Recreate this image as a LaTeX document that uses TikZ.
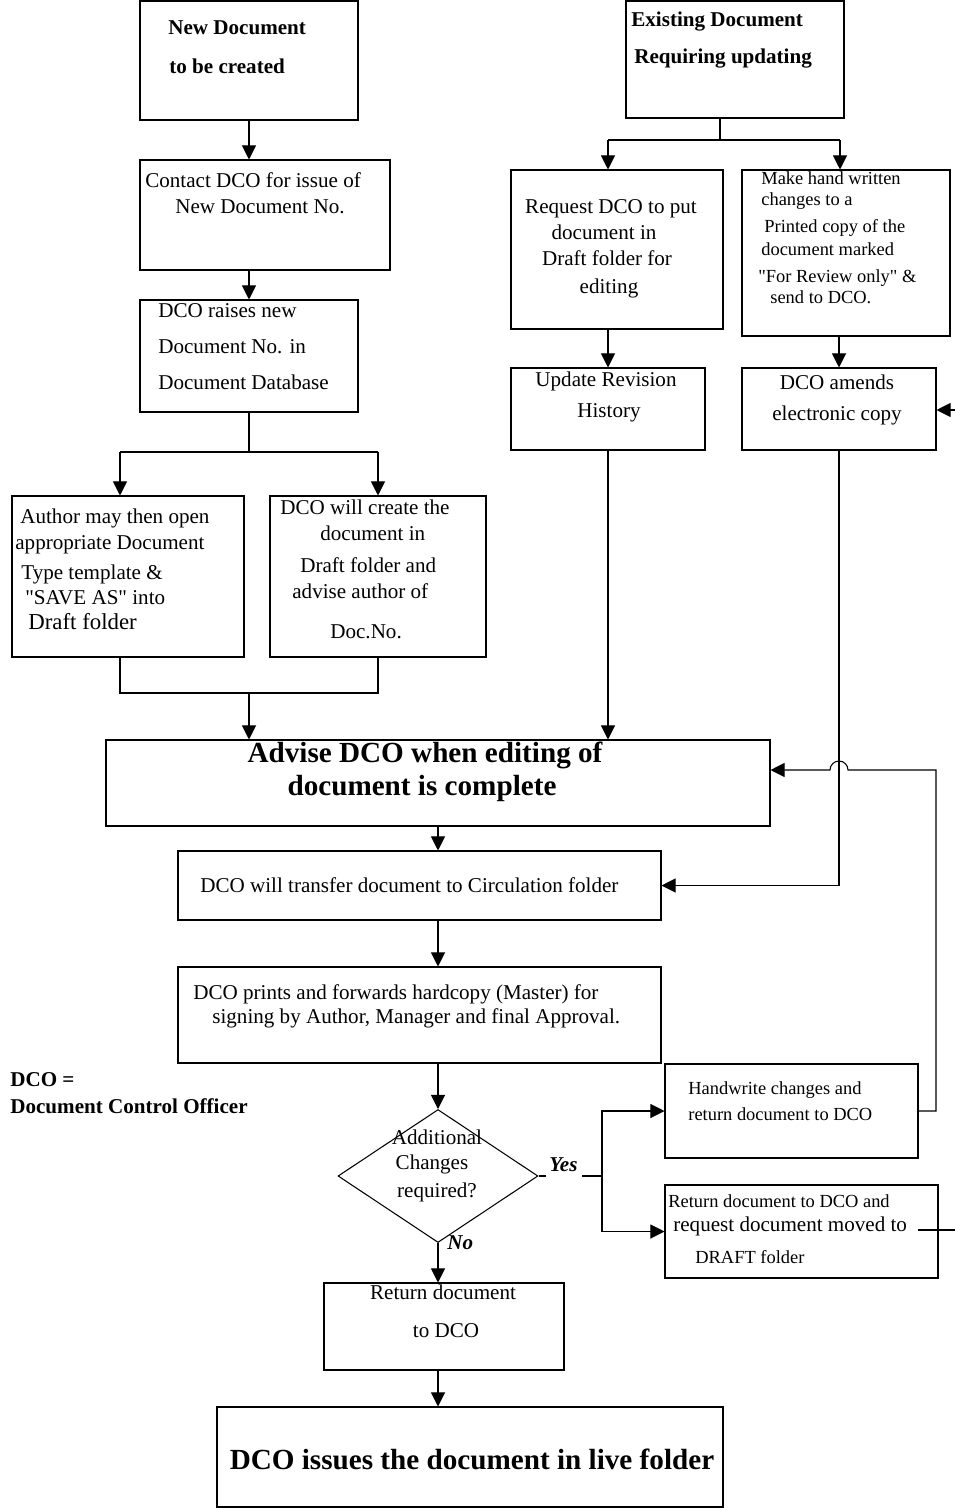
\documentclass[tikz,border=0pt]{standalone}
\usepackage{fontspec}
\setmainfont{Liberation Serif}
\usetikzlibrary{arrows.meta,fit,shapes.geometric}
\begin{document}
\begin{tikzpicture}[x=0.02cm,y=-0.02cm,
  box/.style={draw,line width=0.6pt,inner sep=0pt},
  conn/.style={line width=0.6pt},
  arr/.style={conn,-{Triangle[length=8pt,width=8pt]}},
  tx/.style={inner sep=0pt,anchor=west,font=\fontsize{12}{14}\selectfont,text height=0.86em,text depth=0.1em},
  txc/.style={tx,anchor=center},
  sm/.style={tx,font=\fontsize{10.5}{12}\selectfont},
  bf/.style={tx,font=\fontsize{12}{14}\selectfont\bfseries},
  big/.style={txc,font=\fontsize{16.6}{19}\selectfont\bfseries},
  yn/.style={tx,font=\fontsize{12}{14}\selectfont\bfseries\itshape},
]
\useasboundingbox (0,0) rectangle (955,1508);
% ---------- boxes ----------
\node[box,fit={(140,1)(358,120)}] (newdoc) {};
\node[box,fit={(140,160)(390,270)}] (contact) {};
\node[box,fit={(140,300)(358,412)}] (raises) {};
\node[box,fit={(12,496)(244,657)}] (author) {};
\node[box,fit={(270,496)(486,657)}] (create) {};
\node[box,fit={(106,740)(770,826)}] (advise) {};
\node[box,fit={(178,851)(661,920)}] (transfer) {};
\node[box,fit={(178,967)(661,1063)}] (prints) {};
\node[draw,line width=0.6pt,diamond,inner sep=0pt,minimum width=4cm,minimum height=2.66cm] (dec) at (438,1176) {};
\node[box,fit={(324,1283)(564,1370)}] (ret) {};
\node[box,fit={(217,1407)(723,1507)}] (issue) {};
\node[box,fit={(626,1)(844,118)}] (exist) {};
\node[box,fit={(511,170)(723,329)}] (req) {};
\node[box,fit={(742,170)(950,336)}] (make) {};
\node[box,fit={(511,368)(705,450)}] (update) {};
\node[box,fit={(742,368)(936,450)}] (amends) {};
\node[box,fit={(665,1064)(918,1158)}] (hand) {};
\node[box,fit={(665,1185)(938,1278)}] (draftret) {};
% ---------- texts ----------
\node[bf] (t1) at (168,28) {New Document};
\node[bf] (t2) at (169,67) {to be created};
\node[tx] (t3) at (145,181) {Contact DCO for issue of};
\node[tx] (t4) at (175,207) {New Document No.};
\node[tx] (t5) at (158,311) {DCO raises new};
\node[tx] (t6) at (158,347) {Document No. in};
\node[tx] (t7) at (158,383) {Document Database};
\node[tx] (t8) at (20,517) {Author may then open};
\node[tx] (t9) at (15,543) {appropriate Document};
\node[tx] (t10) at (21,573) {Type template \&};
\node[tx] (t11) at (25,598) {\textquotedbl SAVE AS\textquotedbl{} into};
\node[tx,font=\fontsize{13}{15}\selectfont] (t12) at (28,623) {Draft folder};
\node[tx] (t13) at (280,508) {DCO will create the};
\node[tx] (t14) at (320,534) {document in};
\node[tx] (t15) at (300,566) {Draft folder and};
\node[tx] (t16) at (292,592) {advise author of};
\node[tx] (t17) at (330,632) {Doc.No.};
\node[big] (t18) at (425,756) {Advise DCO when editing of};
\node[big] (t19) at (422,789) {document is complete};
\node[tx] (t20) at (200,886) {DCO will transfer document to Circulation folder};
\node[tx] (t21) at (193,993) {DCO prints and forwards hardcopy (Master) for};
\node[tx] (t22) at (212,1017) {signing by Author, Manager and final Approval.};
\node[txc] (t23) at (437,1138) {Additional};
\node[txc] (t24) at (432,1163) {Changes};
\node[txc] (t25) at (437,1191) {required?};
\node[yn] (yes) at (549,1165) {Yes};
\node[yn] (no) at (447,1243) {No};
\node[txc] (t26) at (443,1293) {Return document};
\node[txc] (t27) at (446,1331) {to DCO};
\node[big] (t28) at (472,1463) {DCO issues the document in live folder};
\node[bf] (t29) at (631,20) {Existing Document};
\node[bf] (t30) at (634,57) {Requiring updating};
\node[txc] (t31) at (611,207) {Request DCO to put};
\node[txc] (t32) at (604,233) {document in};
\node[txc] (t33) at (607,259) {Draft folder for};
\node[txc] (t34) at (609,287) {editing};
\node[sm] (t35) at (761,178) {Make hand written};
\node[sm] (t36) at (761,199) {changes to a};
\node[sm] (t37) at (764,226) {Printed copy of the};
\node[sm] (t38) at (761,249) {document marked};
\node[sm] (t39) at (758,276) {\textquotedbl For Review only\textquotedbl{} \&};
\node[sm] (t40) at (770,297) {send to DCO.};
\node[txc] (t41) at (606,380) {Update Revision};
\node[txc] (t42) at (609,411) {History};
\node[txc] (t43) at (837,383) {DCO amends};
\node[txc] (t44) at (837,414) {electronic copy};
\node[sm] (t45) at (688,1088) {Handwrite changes and};
\node[sm] (t46) at (688,1114) {return document to DCO};
\node[sm] (t47) at (668,1201) {Return document to DCO and};
\node[tx] (t48) at (673,1225) {request document moved to};
\node[sm] (t49) at (695,1257) {DRAFT folder};
\node[bf] (t50) at (10,1080) {DCO =};
\node[bf] (t51) at (10,1107) {Document Control Officer};
% ---------- coordinates ----------
\coordinate (jA) at (249,452);
\coordinate (jAL) at (120,452);
\coordinate (jAR) at (378,452);
\coordinate (jB) at (249,693);
\coordinate (jBL) at (120,693);
\coordinate (jBR) at (378,693);
\coordinate (jE) at (720,140);
\coordinate (jEL) at (608,140);
\coordinate (jER) at (840,140);
\coordinate (yl) at (582,1176);
\coordinate (yv) at (602,1176);
\coordinate (rc) at (936,770);
\coordinate (hopR) at (848,770);
\coordinate (dstart) at (918,1230);
\coordinate (dfree) at (955,1230);
\coordinate (afree) at (955,410);
% ---------- connectors ----------
\draw[arr] (newdoc.south) -- (newdoc.south |- contact.north);
\draw[arr] (raises.north |- contact.south) -- (raises.north);
\draw[conn] (raises.south) -- (jA);
\draw[conn] (jAL) -- (jAR);
\draw[arr] (jAL) -- (jAL |- author.north);
\draw[arr] (jAR) -- (jAR |- create.north);
\draw[conn] (jBL |- author.south) -- (jBL) -- (jBR) -- (jBR |- create.south);
\draw[arr] (jB) -- (jB |- advise.north);
\draw[arr] (dec.north |- advise.south) -- (dec.north |- transfer.north);
\draw[arr] (dec.north |- transfer.south) -- (dec.north |- prints.north);
\draw[arr] (dec.north |- prints.south) -- (dec.north);
\draw[arr] (dec.south) -- (dec.south |- ret.north);
\draw[arr] (dec.south |- ret.south) -- (dec.south |- issue.north);
\draw[conn] (dec.east) -- ++(7,0);
\draw[conn] (yl) -- (yv);
\draw[arr] (yv) |- (hand.west);
\draw[arr] (yv) |- (draftret.west);
\draw[arr] (hand.east) -| (rc) -- (hopR) arc[start angle=0,end angle=180,radius=0.18cm] -- (advise.east |- rc);
\draw[conn] (dstart) -- (dfree);
\draw[conn] (exist.south -| jE) -- (jE);
\draw[conn] (jEL) -- (jER);
\draw[arr] (jEL) -- (jEL |- req.north);
\draw[arr] (jER) -- (jER |- make.north);
\draw[arr] (update.north |- req.south) -- (update.north);
\draw[arr] (amends.north |- make.south) -- (amends.north);
\draw[arr] (afree) -- (amends.east |- afree);
\draw[arr] (update.south) -- (update.south |- advise.north);
\draw[arr] (amends.south) |- (transfer.east);
\end{tikzpicture}
\end{document}
